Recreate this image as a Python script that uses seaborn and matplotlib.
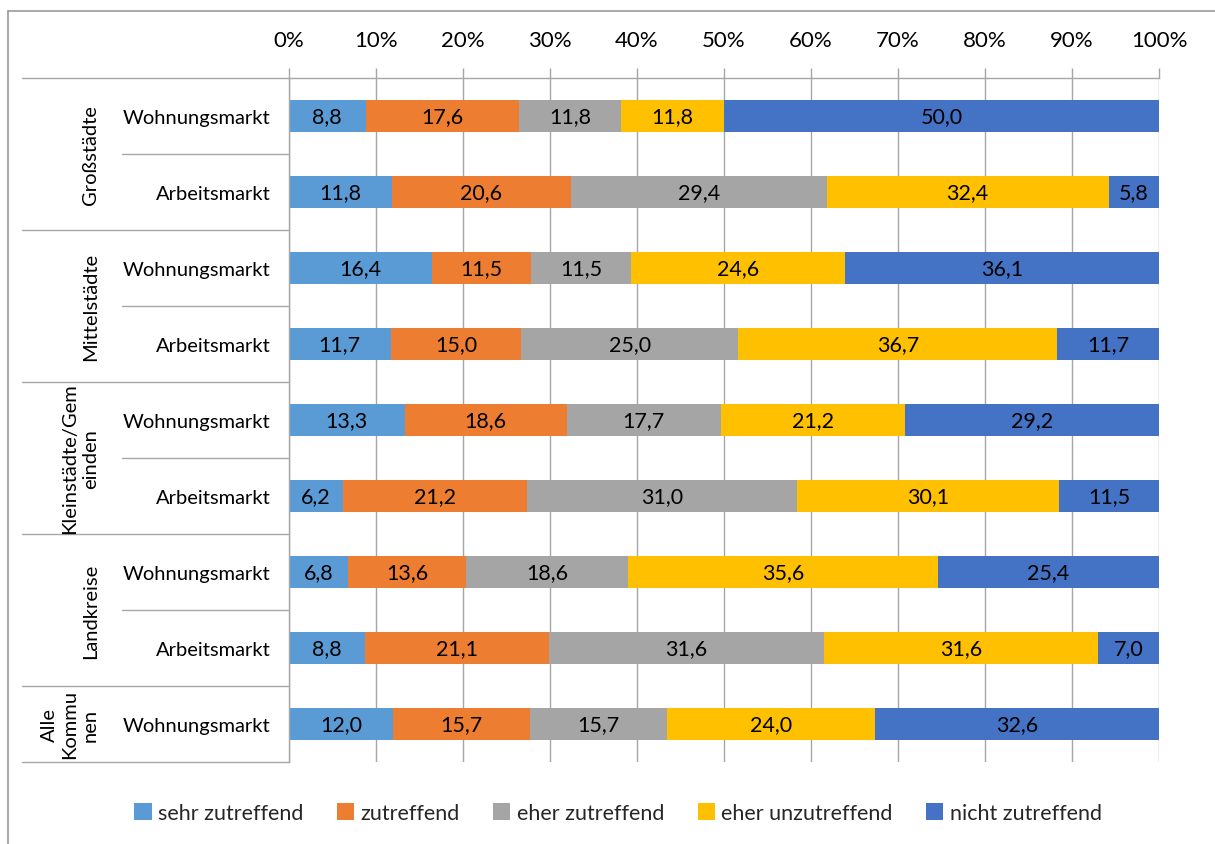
import matplotlib
matplotlib.use("Agg")
import matplotlib.pyplot as plt
from matplotlib.lines import Line2D
from matplotlib.patches import Patch
import numpy as np
import pandas as pd
import seaborn as sns

# ------------------------------------------------------------------ #
# Data
# ------------------------------------------------------------------ #
groups = ["Großstädte", "Großstädte", "Mittelstädte", "Mittelstädte",
          "Kleinstädte/Gem\neinden", "Kleinstädte/Gem\neinden",
          "Landkreise", "Landkreise", "Alle\nKommu\nnen"]
markets = ["Wohnungsmarkt", "Arbeitsmarkt", "Wohnungsmarkt", "Arbeitsmarkt",
           "Wohnungsmarkt", "Arbeitsmarkt", "Wohnungsmarkt", "Arbeitsmarkt",
           "Wohnungsmarkt"]
series = ["sehr zutreffend", "zutreffend", "eher zutreffend",
          "eher unzutreffend", "nicht zutreffend"]
sehr_zutreffend = [8.8, 11.8, 16.4, 11.7, 13.3, 6.2, 6.8, 8.8, 12.0]
zutreffend = [17.6, 20.6, 11.5, 15.0, 18.6, 21.2, 13.6, 21.1, 15.7]
eher_zutreffend = [11.8, 29.4, 11.5, 25.0, 17.7, 31.0, 18.6, 31.6, 15.7]
eher_unzutreffend = [11.8, 32.4, 24.6, 36.7, 21.2, 30.1, 35.6, 31.6, 24.0]
nicht_zutreffend = [50.0, 5.8, 36.1, 11.7, 29.2, 11.5, 25.4, 7.0, 32.6]
colors = ["#5B9BD5", "#ED7D31", "#A5A5A5", "#FFC000", "#4472C4"]

W, H = 1215, 845
GRID = "#A6A6A6"
FS_NUM = 15.5    # percent ticks and value labels
FS_TXT = 14.5    # category / group labels
FS_LEG = 15.5

sns.set_theme(style="white")
plt.rcParams["font.family"] = ["Lato", "DejaVu Sans"]

df = pd.DataFrame({
    "key": [f"{i}_{m}" for i, m in enumerate(markets)],
    "group": groups,
    "market": markets,
    series[0]: sehr_zutreffend,
    series[1]: zutreffend,
    series[2]: eher_zutreffend,
    series[3]: eher_unzutreffend,
    series[4]: nicht_zutreffend,
})
total = df[series].sum(axis=1)
pct = df[series].div(total, axis=0) * 100  # 100% stacked
cum = pct.cumsum(axis=1)
for s in series:
    df["cum_" + s] = cum[s]
order = df["key"].tolist()

fig = plt.figure(figsize=(W / 100, H / 100), dpi=100)
ax = fig.add_axes([289 / W, 1 - 763 / H, 870 / W, 684 / H])

# draw cumulative bars from the last series backwards -> stacked look
for s, c in reversed(list(zip(series, colors))):
    sns.barplot(data=df, x="cum_" + s, y="key", order=order, color=c,
                saturation=1, width=0.42, errorbar=None, linewidth=0, ax=ax)

# value labels
for i in range(len(df)):
    for s in series:
        mid = cum.loc[i, s] - pct.loc[i, s] / 2
        ax.text(mid, i, f"{df.loc[i, s]:.1f}".replace(".", ","),
                ha="center", va="center", fontsize=FS_NUM, color="#000000")

ax.set_xlim(0, 100)
ax.set_ylim(len(df) - 0.5, -0.5)
ax.set_xticks(np.arange(0, 101, 10))
ax.set_xticklabels([f"{v}%" for v in range(0, 101, 10)])
ax.xaxis.tick_top()
ax.tick_params(axis="x", which="both", top=True, bottom=False, length=7,
               width=1, color=GRID, pad=13, labelsize=FS_NUM + 0.5,
               labelcolor="#000000")
ax.set_yticks(range(len(df)))
ax.set_yticklabels(markets)
ax.tick_params(axis="y", length=0, pad=13.5, labelsize=FS_TXT, labelcolor="#000000")
ax.set_xlabel("")
ax.set_ylabel("")
ax.grid(axis="x", color=GRID, linewidth=1)
ax.set_axisbelow(True)
for side in ["right", "bottom"]:
    ax.spines[side].set_visible(False)
for side in ["top", "left"]:
    ax.spines[side].set_color(GRID)
    ax.spines[side].set_linewidth(1)

# category separators on the left
tr = ax.get_yaxis_transform()
x_outer = (22 - 289) / 870
x_inner = (122 - 289) / 870
for yb in [-0.5, 1.5, 3.5, 5.5, 7.5, 8.5]:
    ax.plot([x_outer, 0], [yb, yb], color=GRID, lw=1, transform=tr, clip_on=False)
for yb in [0.5, 2.5, 4.5, 6.5]:
    ax.plot([x_inner, 0], [yb, yb], color=GRID, lw=1, transform=tr, clip_on=False)

# group labels
group_spans = [("Großstädte", 0, 1), ("Mittelstädte", 2, 3),
               ("Kleinstädte/Gem\neinden", 4, 5), ("Landkreise", 6, 7),
               ("Alle\nKommu\nnen", 8, 8)]
x_grp = (99 - 289) / 870
for name, a, b in group_spans:
    ax.text(x_grp, (a + b) / 2, name, rotation=90, ha="right", va="center",
            multialignment="center", fontsize=FS_TXT, color="#000000",
            transform=tr, linespacing=1.25)

# legend
handles = [Patch(facecolor=c, edgecolor="none", label=s) for s, c in zip(series, colors)]
fig.legend(handles=handles, loc="center", bbox_to_anchor=(618 / W, 1 - 814 / H),
           ncol=5, frameon=False, fontsize=FS_LEG, handlelength=0.8, handleheight=0.8,
           handletextpad=0.3, columnspacing=1.55)

# outer chart frame
fig.add_artist(Line2D([8 / W, 1], [1 - 12 / H, 1 - 12 / H], color="#9A9A9A", lw=1.2))
fig.add_artist(Line2D([8 / W, 8 / W], [0, 1 - 12 / H], color="#9A9A9A", lw=1.2))

fig.savefig("out.png", dpi=100)
